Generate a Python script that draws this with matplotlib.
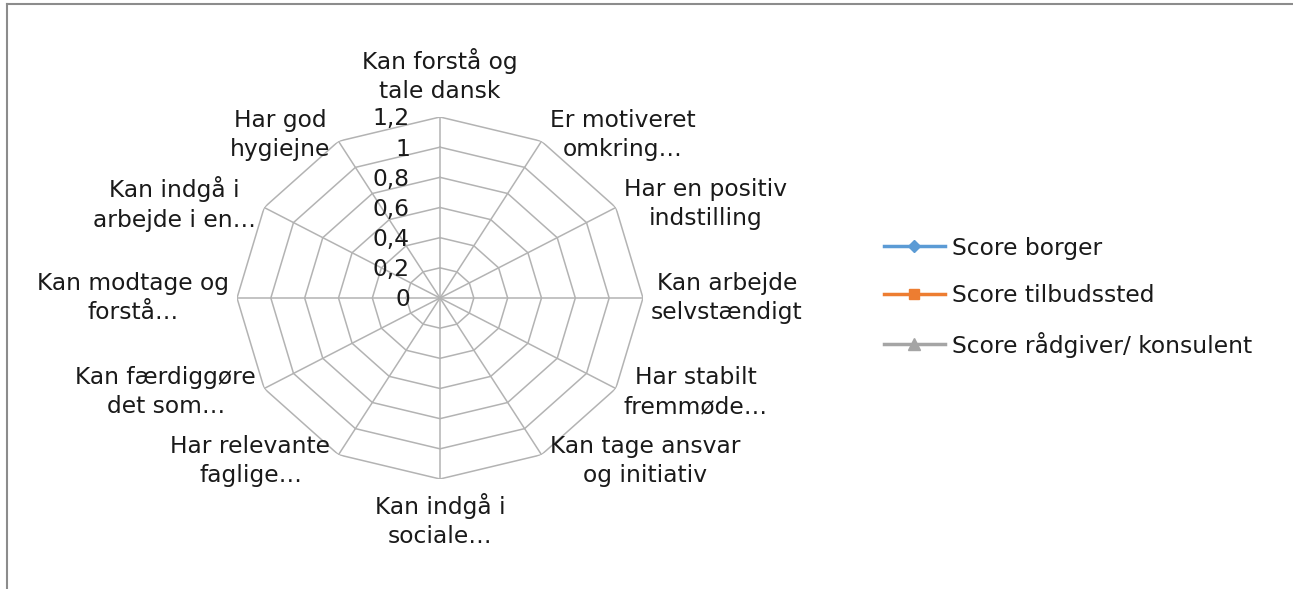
import numpy as np
import matplotlib
matplotlib.use("Agg")
import matplotlib.pyplot as plt
from matplotlib.transforms import offset_copy
from matplotlib.lines import Line2D

categories = [
    "Kan forstå og\ntale dansk",
    "Er motiveret\nomkring…",
    "Har en positiv\nindstilling",
    "Kan arbejde\nselvstændigt",
    "Har stabilt\nfremmøde…",
    "Kan tage ansvar\nog initiativ",
    "Kan indgå i\nsociale…",
    "Har relevante\nfaglige…",
    "Kan færdiggøre\ndet som…",
    "Kan modtage og\nforstå…",
    "Kan indgå i\narbejde i en…",
    "Har god\nhygiejne",
]
series_names = ["Score borger", "Score tilbudssted", "Score rådgiver/ konsulent"]
# The reference chart shows no plotted values (empty series)
score_borger = [np.nan] * 12
score_tilbudssted = [np.nan] * 12
score_raadgiver = [np.nan] * 12
r_ticks = [0, 0.2, 0.4, 0.6, 0.8, 1.0, 1.2]
r_tick_labels = ["0", "0,2", "0,4", "0,6", "0,8", "1", "1,2"]

plt.rcParams['font.family'] = ['DejaVu Sans']
TXT = '#1a1a1a'
GRID = '#b3b3b3'
FS = 16.8

fig = plt.figure(figsize=(12.93, 5.89), dpi=100)
# outer border (top and left visible)
fig.add_artist(Line2D([0.0054, 0.0054], [0.0, 0.993], transform=fig.transFigure, color='#8c8c8c', lw=1.5))
fig.add_artist(Line2D([0.0054, 1.0], [0.993, 0.993], transform=fig.transFigure, color='#8c8c8c', lw=1.5))

cx, cy, RX, RY = 440, 298, 203, 181
W, H = 1293, 589
ax = fig.add_axes([(cx - RX) / W, (H - cy - RY) / H, 2 * RX / W, 2 * RY / H], projection='polar')
ax.set_aspect('auto')
ax.set_theta_zero_location('N')
ax.set_theta_direction(-1)
ax.set_ylim(0, 1.2)
ax.grid(False)
ax.set_xticks([])
ax.set_yticks([])
ax.spines['polar'].set_visible(False)
ax.patch.set_alpha(0)

n = len(categories)
theta = np.linspace(0, 2 * np.pi, n, endpoint=False)
theta_c = np.append(theta, theta[0])

for r in r_ticks[1:]:
    ax.plot(theta_c, [r] * (n + 1), color=GRID, lw=1.1, zorder=1)
for t in theta:
    ax.plot([t, t], [0, r_ticks[-1]], color=GRID, lw=1.1, zorder=1)

colors = ['#5b9bd5', '#ed7d31', '#a5a5a5']
markers = ['D', 's', '^']
msizes = [6, 7, 8]
handles = []
for vals, name, c, m, ms in zip([score_borger, score_tilbudssted, score_raadgiver], series_names, colors, markers, msizes):
    h, = ax.plot(theta_c, vals + [vals[0]], color=c, marker=m, ms=ms, lw=2.5, label=name)
    handles.append(h)

# radial tick labels
tr = offset_copy(ax.transData, fig=fig, x=-30, y=-2, units='dots')
for r, lab in zip(r_ticks, r_tick_labels):
    ax.text(0, r, lab, transform=tr, ha='right', va='center', fontsize=FS, color=TXT)

# category labels
for t, lab in zip(theta, categories):
    s, c = np.sin(t), np.cos(t)
    if abs(s) < 0.1:
        ha = 'center'
        va = 'bottom' if c > 0 else 'top'
        dx, dy = 0, 14 * np.sign(c)
    else:
        ha = 'left' if s > 0 else 'right'
        va = 'center'
        dx, dy = 8 * np.sign(s), 7 * c
    trl = offset_copy(ax.transData, fig=fig, x=dx, y=dy, units='dots')
    ax.text(t, 1.2, lab, transform=trl, ha=ha, va=va, fontsize=FS, color=TXT,
            multialignment='center', linespacing=1.35)

fig.legend(handles=handles, loc='center left', bbox_to_anchor=(884 / W, 1 - 297 / H),
           frameon=False, fontsize=FS, handlelength=2.6, handletextpad=0.33,
           labelspacing=1.05, labelcolor=TXT, borderaxespad=0, borderpad=0)

fig.savefig('out.png', dpi=100)
